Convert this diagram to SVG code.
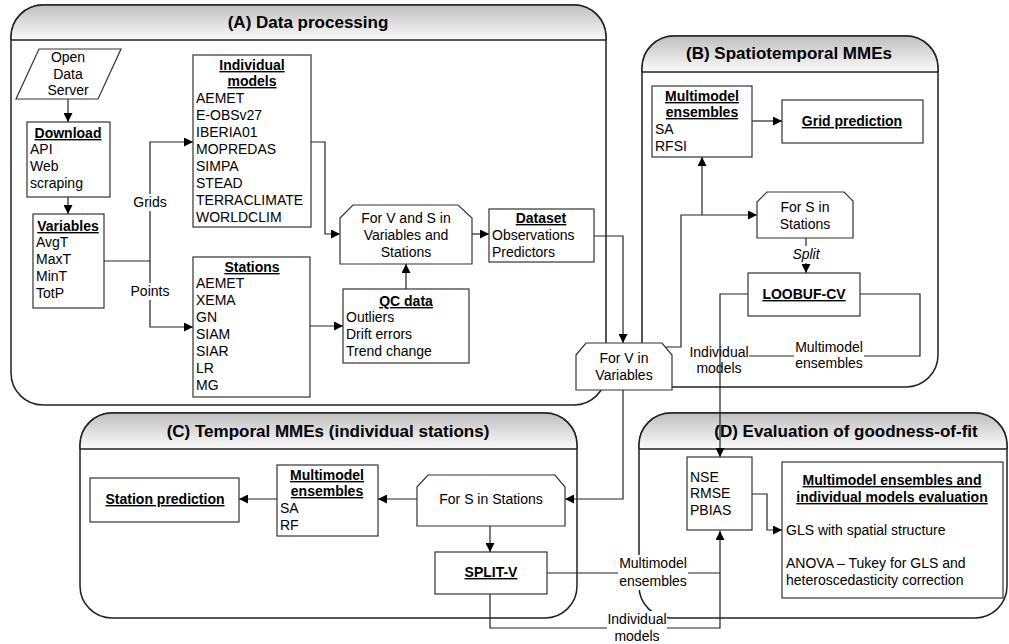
<svg xmlns="http://www.w3.org/2000/svg" width="1009" height="644" viewBox="0 0 1009 644">
<defs>
<linearGradient id="hg" x1="0" y1="0" x2="0" y2="1">
<stop offset="0" stop-color="#bfbfbf"/>
<stop offset="1" stop-color="#fbfbfb"/>
</linearGradient>
<marker id="ah" viewBox="0 0 10 10" refX="10" refY="5" markerWidth="9" markerHeight="9" markerUnits="userSpaceOnUse" orient="auto">
<path d="M0,0 L10,5 L0,10 z" fill="#000"/>
</marker>
</defs>
<style>
text{font-family:"Liberation Sans",Arial,sans-serif;font-size:14px;fill:#000}
.t{font-size:17px;font-weight:bold;text-anchor:middle}
.h{font-weight:bold;text-decoration:underline}
.c{text-anchor:middle}
.i{font-style:italic}
.pan{fill:#fff;stroke:#222;stroke-width:1.5}
.hd{fill:url(#hg);stroke:none}
.hl{stroke:#222;stroke-width:1.5;fill:none}
.box{fill:#fff;stroke:#333;stroke-width:1.2}
.ln{fill:none;stroke:#222;stroke-width:1.2}
.arr{marker-end:url(#ah)}
.bg{fill:#fff;stroke:none}
</style>

<g id="panelA">
<rect class="pan" x="11" y="5" width="595" height="400" rx="32"/>
<path class="hd" d="M11,40 L11,37 A32,32 0 0 1 43,5 L574,5 A32,32 0 0 1 606,37 L606,40 Z"/>
<path class="hl" d="M11,40 L11,37 A32,32 0 0 1 43,5 L574,5 A32,32 0 0 1 606,37 L606,40 M11,40 H606"/>
<text class="t" x="308" y="28">(A) Data processing</text>
</g>
<g id="panelB">
<rect class="pan" x="642" y="36" width="296" height="351" rx="32"/>
<path class="hd" d="M642,72 L642,68 A32,32 0 0 1 674,36 L906,36 A32,32 0 0 1 938,68 L938,72 Z"/>
<path class="hl" d="M642,72 L642,68 A32,32 0 0 1 674,36 L906,36 A32,32 0 0 1 938,68 L938,72 M642,72 H938"/>
<text class="t" x="789" y="59">(B) Spatiotemporal MMEs</text>
</g>
<g id="panelC">
<rect class="pan" x="80" y="413" width="497" height="205" rx="32"/>
<path class="hd" d="M80,449 L80,445 A32,32 0 0 1 112,413 L545,413 A32,32 0 0 1 577,445 L577,449 Z"/>
<path class="hl" d="M80,449 L80,445 A32,32 0 0 1 112,413 L545,413 A32,32 0 0 1 577,445 L577,449 M80,449 H577"/>
<text class="t" x="328" y="437">(C) Temporal MMEs (individual stations)</text>
</g>
<g id="panelD">
<rect class="pan" x="639" y="413" width="368" height="205" rx="32"/>
<path class="hd" d="M639,449 L639,445 A32,32 0 0 1 671,413 L975,413 A32,32 0 0 1 1007,445 L1007,449 Z"/>
<path class="hl" d="M639,449 L639,445 A32,32 0 0 1 671,413 L975,413 A32,32 0 0 1 1007,445 L1007,449 M639,449 H1007"/>
<text class="t" x="846" y="437">(D) Evaluation of goodness-of-fit</text>
</g>

<g id="connectors">
<path class="ln arr" d="M68,99 V122"/>
<path class="ln arr" d="M68,197 V214"/>
<path class="ln arr" d="M104,261 H150 V142 H193"/>
<path class="ln arr" d="M150,261 V327 H193"/>
<path class="ln arr" d="M311,142 H325 V234 H340"/>
<path class="ln arr" d="M310,326 H343"/>
<path class="ln arr" d="M406,289 V264"/>
<path class="ln arr" d="M472,234 H489"/>
<path class="ln arr" d="M594,236 H623 V343"/>
<path class="ln arr" d="M666,347 H681 V215 H757"/>
<path class="ln arr" d="M702,215 V157"/>
<path class="ln arr" d="M752,121 H782"/>
<path class="ln arr" d="M806,238 V273"/>
<path class="ln" d="M860,294 H920 V356 H720"/>
<path class="ln arr" d="M623,390 V499 H565"/>
<path class="ln arr" d="M417,499 H378"/>
<path class="ln arr" d="M277,499 H239"/>
<path class="ln arr" d="M490,526 V552"/>
<path class="ln" d="M547,573 H720"/>
<path class="ln arr" d="M490,594 V628 H720 V531"/>
<path class="ln arr" d="M752,494 H767 V530 H782"/>
<rect class="bg" x="133" y="194" width="34" height="17"/>
<text class="c" x="150" y="207">Grids</text>
<rect class="bg" x="130" y="283" width="40" height="17"/>
<text class="c" x="150" y="296">Points</text>
<rect class="bg" x="792" y="246" width="28" height="17"/>
<text class="c i" x="806" y="259">Split</text>
<rect class="bg" x="794" y="339" width="70" height="33"/>
<text class="c" x="829" y="352">Multimodel</text>
<text class="c" x="829" y="368">ensembles</text>
<rect class="bg" x="689" y="344" width="60" height="33"/>
<text class="c" x="719" y="357">Individual</text>
<text class="c" x="719" y="373">models</text>
<rect class="bg" x="618" y="555" width="70" height="35"/>
<text class="c" x="653" y="568">Multimodel</text>
<text class="c" x="653" y="586">ensembles</text>
<rect class="bg" x="607" y="611" width="60" height="33"/>
<text class="c" x="637" y="624">Individual</text>
<text class="c" x="637" y="641">models</text>
<path class="ln arr" d="M748,294 H720 V457"/>
</g>

<g id="openData">
<polygon class="box" points="39,49 121,49 98,99 16,99"/>
<text class="c" x="68" y="62">Open</text>
<text class="c" x="68" y="79">Data</text>
<text class="c" x="68" y="95">Server</text>
</g>
<g id="download">
<rect class="box" x="27" y="122" width="83" height="75"/>
<text class="c h" x="68" y="138">Download</text>
<text x="30" y="154">API</text>
<text x="30" y="171">Web</text>
<text x="30" y="188">scraping</text>
</g>
<g id="variables">
<rect class="box" x="33" y="214" width="71" height="94"/>
<text class="c h" x="68" y="231">Variables</text>
<text x="36" y="247">AvgT</text>
<text x="36" y="264">MaxT</text>
<text x="36" y="281">MinT</text>
<text x="36" y="298">TotP</text>
</g>
<g id="individualModels">
<rect class="box" x="193" y="55" width="118" height="172"/>
<text class="c h" x="252" y="70">Individual</text>
<text class="c h" x="252" y="86">models</text>
<text x="196" y="103">AEMET</text>
<text x="196" y="120">E-OBSv27</text>
<text x="196" y="137">IBERIA01</text>
<text x="196" y="154">MOPREDAS</text>
<text x="196" y="171">SIMPA</text>
<text x="196" y="188">STEAD</text>
<text x="196" y="205">TERRACLIMATE</text>
<text x="196" y="222">WORLDCLIM</text>
</g>
<g id="stations">
<rect class="box" x="193" y="257" width="117" height="140"/>
<text class="c h" x="252" y="272">Stations</text>
<text x="196" y="288">AEMET</text>
<text x="196" y="305">XEMA</text>
<text x="196" y="322">GN</text>
<text x="196" y="339">SIAM</text>
<text x="196" y="356">SIAR</text>
<text x="196" y="373">LR</text>
<text x="196" y="390">MG</text>
</g>
<g id="forVS">
<polygon class="box" points="340,218 353,205 458,205 472,218 472,264 340,264"/>
<text class="c" x="406" y="223">For V and S in</text>
<text class="c" x="406" y="240">Variables and</text>
<text class="c" x="406" y="257">Stations</text>
</g>
<g id="qcData">
<rect class="box" x="343" y="289" width="126" height="74"/>
<text class="c h" x="406" y="306">QC data</text>
<text x="346" y="322">Outliers</text>
<text x="346" y="339">Drift errors</text>
<text x="346" y="356">Trend change</text>
</g>
<g id="dataset">
<rect class="box" x="489" y="209" width="105" height="53"/>
<text class="c h" x="541" y="223">Dataset</text>
<text x="492" y="240">Observations</text>
<text x="492" y="257">Predictors</text>
</g>
<g id="forV">
<polygon class="box" points="576,355 586,343 662,343 672,355 672,390 576,390"/>
<text class="c" x="624" y="363">For V in</text>
<text class="c" x="624" y="380">Variables</text>
</g>
<g id="mmeB">
<rect class="box" x="652" y="86" width="100" height="71"/>
<text class="c h" x="702" y="101">Multimodel</text>
<text class="c h" x="702" y="117">ensembles</text>
<text x="655" y="134">SA</text>
<text x="655" y="151">RFSI</text>
</g>
<g id="gridPrediction">
<rect class="box" x="782" y="100" width="141" height="43"/>
<text class="c h" x="852" y="126">Grid prediction</text>
</g>
<g id="forSB">
<polygon class="box" points="757,202 767,192 844,192 853,201 853,238 757,238"/>
<text class="c" x="805" y="212">For S in</text>
<text class="c" x="805" y="229">Stations</text>
</g>
<g id="loobuf">
<rect class="box" x="748" y="273" width="112" height="43"/>
<text class="c h" x="804" y="299">LOOBUF-CV</text>
</g>
<g id="stationPrediction">
<rect class="box" x="90" y="478" width="149" height="44"/>
<text class="c h" x="165" y="504">Station prediction</text>
</g>
<g id="mmeC">
<rect class="box" x="277" y="465" width="101" height="71"/>
<text class="c h" x="327" y="480">Multimodel</text>
<text class="c h" x="327" y="496">ensembles</text>
<text x="280" y="513">SA</text>
<text x="280" y="530">RF</text>
</g>
<g id="forSC">
<polygon class="box" points="417,487 428,475 555,475 565,487 565,526 417,526"/>
<text class="c" x="491" y="504">For S in Stations</text>
</g>
<g id="splitV">
<rect class="box" x="435" y="552" width="112" height="42"/>
<text class="c h" x="491" y="577">SPLIT-V</text>
</g>
<g id="metrics">
<rect class="box" x="687" y="457" width="65" height="73"/>
<text x="690" y="482">NSE</text>
<text x="690" y="498">RMSE</text>
<text x="690" y="515">PBIAS</text>
</g>
<g id="evaluation">
<rect class="box" x="782" y="462" width="221" height="136"/>
<text class="c h" x="892" y="485">Multimodel ensembles and</text>
<text class="c h" x="892" y="502">individual models evaluation</text>
<text x="786" y="535">GLS with spatial structure</text>
<text x="786" y="568">ANOVA – Tukey for GLS and</text>
<text x="786" y="585">heteroscedasticity correction</text>
</g>
</svg>
